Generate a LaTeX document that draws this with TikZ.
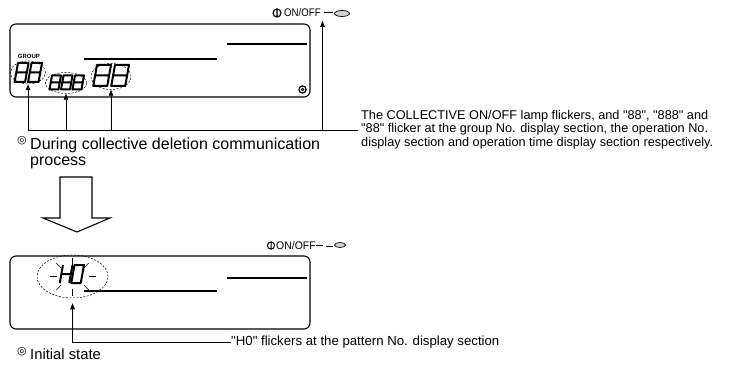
\documentclass[tikz,border=0pt]{standalone}
\usepackage{fontspec}
\setmainfont{Liberation Sans}[Ligatures=TeXOff]
\newfontfamily\symfont{DejaVu Sans}
\usetikzlibrary{arrows.meta,shapes.geometric,calc}

\begin{document}
\begin{tikzpicture}[
    x=1pt, y=-1pt,
    panel/.style={draw=black, line width=1.1pt, rounded corners=6pt},
    bar/.style={line width=1.3pt},
    lcd/.style={line width=2pt, line join=round},
    digit/.style 2 args={xslant=0.18, xscale=#1, yscale=#2},
    flick/.style={ellipse, draw=black, line width=0.5pt,
                  dash pattern=on 2pt off 1.5pt, inner sep=0pt},
    arr/.style={-{Triangle[length=6pt, width=4.5pt]}, line width=0.7pt},
    note/.style={inner sep=0pt, align=left, font=\fontsize{12.7}{13.4}\selectfont},
    caption/.style={inner sep=0pt, align=left, font=\fontsize{16}{16}\selectfont},
    ring/.style={inner sep=0pt, font=\symfont\fontsize{11}{11}\selectfont},
    onoff/.style={inner sep=0pt, font=\fontsize{11}{11}\selectfont},
    lamp/.style={ellipse, draw=black, line width=0.7pt, fill=gray!35, inner sep=0pt},
    eight/.pic={\draw[lcd] (0,0) rectangle (1,1) (0,0.5) -- (1,0.5);},
    letterh/.pic={\draw[lcd] (0,0) -- (0,1) (1,0) -- (1,1) (0,0.5) -- (1,0.5);},
    zero/.pic={\draw[lcd] (0,0) rectangle (1,1);}
]
\useasboundingbox (0,0) rectangle (730,387);

% upper display: collective deletion in progress
\draw[panel] (10,24) rectangle (310,97);
\draw[bar] (227,44) -- (307,44);
\draw[bar] (84,59) -- (217,59);
\draw[line width=1.2pt] (302.5,89.5) circle (3.6);
\draw[line width=0.8pt] (302.5,89.5) circle (1.3);

\node[inner sep=0pt, font=\fontsize{6}{6}\selectfont\bfseries] (grouptag) at (29,56) {GROUP};
\foreach \i in {0,1} \pic[digit={10.5}{19}] at (18+\i*13.5,63) {eight};
\foreach \i in {0,1,2} \pic[digit={9}{14}] at (52+\i*11.5,75.5) {eight};
\foreach \i in {0,1} \pic[digit={14}{21}] at (97+\i*18,65) {eight};

\node[flick, minimum width=35pt, minimum height=23pt] (grp)  at (28,72.5) {};
\node[flick, minimum width=41pt, minimum height=21pt] (trio) at (66,83) {};
\node[flick, minimum width=40pt, minimum height=26pt] (pair) at (111,76.5) {};

% ON/OFF lamp (upper)
\draw[line width=1.1pt] (277,13) circle (4) (277,8.5) -- (277,17.5);
\node[onoff, anchor=west] (swA) at (284,13) {\scalebox{0.88}[1]{ON/OFF}};
\node[lamp, minimum width=15pt, minimum height=6pt] (lampA) at (342,13.5) {};
\draw[line width=1pt] ($(lampA.west)+(-10,-0.5)$) -- ($(lampA.west)+(-1.5,-0.5)$);

\node[note, anchor=north west] (lampnote) at (361,110)
    {The COLLECTIVE ON/OFF lamp flickers, and "88", "888" and\\
     "88" flicker at the group No. display section, the operation No.\\
     display section and operation time display section respectively.};
\coordinate (hub) at (358,130.5);
\coordinate (lampup) at (322.5,21);
\draw[arr] (hub) -| (grp.south);
\draw[arr] (hub) -| (trio.south);
\draw[arr] (hub) -| (pair.south);
\draw[arr] (hub) -| (lampup);

\node[ring] (markA) at (22,141) {◎};
\node[caption, anchor=north west] (capA) at (30,137.5)
    {During collective deletion communication\\process};

% hollow arrow down
\draw[line width=1.1pt] (60,177) -- (92,177) -- (92,218) -- (110,218)
    -- (77,232) -- (43,218) -- (60,218) -- cycle;

% lower display: initial state
\draw[panel] (10,256) rectangle (310,329);
\draw[bar] (227,278) -- (307,278);
\draw[bar] (84,291) -- (217,291);

\pic[digit={9.5}{18}] at (63,265) {letterh};
\pic[digit={9.5}{18}] at (74.5,265) {zero};
\node[flick, minimum width=71pt, minimum height=43pt] (hring) at (72.5,276.5) {};
\foreach \a in {0,45,...,315}
    \draw[line width=0.5pt] ($(hring.center)+(\a:16 and 12)$) -- ($(hring.center)+(\a:23 and 19)$);

% ON/OFF lamp (lower)
\draw[line width=1pt] (271,245.5) circle (3.6) (271,241.5) -- (271,249.5);
\node[onoff, anchor=west] (swB) at (276,245.5) {\scalebox{0.95}[1]{ON/OFF}};
\node[lamp, minimum width=11pt, minimum height=5pt] (lampB) at (340,245) {};
\draw[line width=0.8pt] (swB.east) -- +(7,0);
\draw[line width=0.8pt] ($(lampB.west)+(-8,1)$) -- ($(lampB.west)+(-1.5,1)$);

\node[note, anchor=west, font=\fontsize{13.2}{14}\selectfont] (patnote) at (231,342)
    {"H0" flickers at the pattern No. display section};
\draw[arr, shorten >=5pt] (patnote.west) -| (hring.south);

\node[ring] (markB) at (22,352) {◎};
\node[caption, anchor=base west, font=\fontsize{14.8}{16}\selectfont] (capB) at (30,359.5) {Initial state};
\end{tikzpicture}
\end{document}
